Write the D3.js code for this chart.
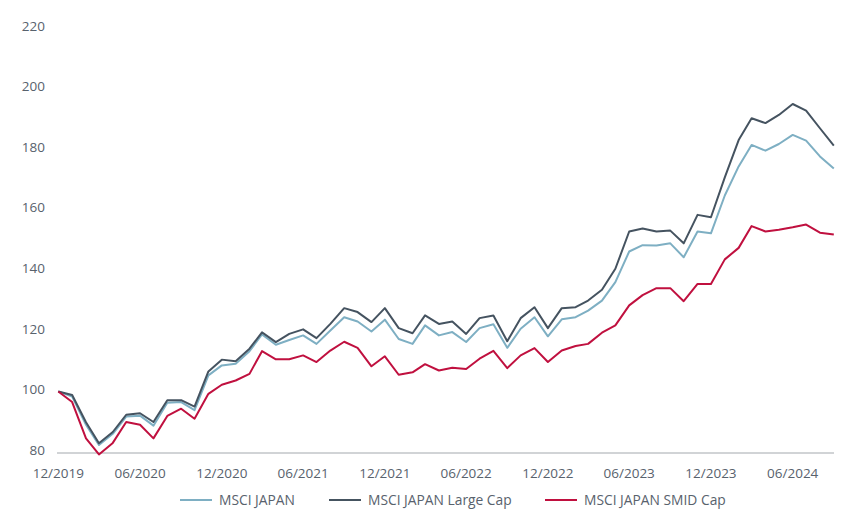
<!DOCTYPE html>
<html>
<head>
<meta charset="utf-8">
<script src="https://cdn.jsdelivr.net/npm/d3@7"></script>
<style>
  body { margin: 0; background: #fff; }
  text { font-family: "Open Sans", sans-serif; fill: #58626d; }
</style>
</head>
<body>
<div id="chart"></div>
<script>
// Monthly index values, 12/2019 = 100
var startMonth = "12/2019";
var msciJapan = [100, 98.3, 89.0, 82.3, 86.0, 91.7, 92.0, 88.7, 96.3, 96.5, 93.8,
  105.3, 108.6, 109.1, 113.3, 118.8, 115.4, 117.0, 118.5, 115.7, 120.1, 124.5,
  123.1, 119.8, 123.7, 117.3, 115.7, 121.8, 118.5, 119.6, 116.3, 120.9, 122.2,
  114.4, 120.7, 124.5, 118.2, 123.8, 124.5, 126.7, 130.0, 136.1, 146.2, 148.3,
  148.2, 148.9, 144.3, 152.8, 152.2, 164.7, 174.3, 181.4, 179.5, 181.7, 184.7,
  182.8, 177.6, 173.6];
var largeCap = [100, 98.8, 89.8, 82.9, 86.6, 92.3, 92.8, 89.9, 97.1, 97.1, 95.0,
  106.6, 110.5, 110.0, 114.1, 119.5, 116.3, 119.0, 120.5, 117.6, 122.3, 127.5,
  126.2, 122.9, 127.5, 120.9, 119.2, 125.1, 122.3, 123.1, 119.0, 124.2, 125.1,
  116.6, 124.2, 127.8, 120.9, 127.5, 127.8, 130.0, 133.6, 140.5, 152.8, 153.8,
  152.8, 153.1, 148.9, 158.3, 157.5, 170.7, 183.0, 190.2, 188.6, 191.3, 194.9,
  192.7, 186.9, 181.2];
var smidCap = [100, 96.5, 84.5, 79.2, 83.0, 89.9, 89.0, 84.5, 91.9, 94.3, 91.0,
  99.2, 102.2, 103.6, 105.8, 113.3, 110.6, 110.6, 111.9, 109.7, 113.5, 116.4,
  114.4, 108.3, 111.6, 105.5, 106.3, 109.0, 106.9, 107.8, 107.4, 110.8, 113.4,
  107.7, 111.9, 114.3, 109.7, 113.5, 115.0, 115.7, 119.4, 121.8, 128.4, 131.8,
  134.1, 134.1, 129.8, 135.5, 135.5, 143.6, 147.4, 154.6, 152.8, 153.4, 154.2,
  155.1, 152.4, 151.8];
var xTickLabels = ["12/2019", "06/2020", "12/2020", "06/2021", "12/2021",
  "06/2022", "12/2022", "06/2023", "12/2023", "06/2024"];
var yTicks = [80, 100, 120, 140, 160, 180, 200, 220];
var seriesNames = ["MSCI JAPAN", "MSCI JAPAN Large Cap", "MSCI JAPAN SMID Cap"];
var seriesColors = ["#7eafc3", "#455360", "#c0103f"];

var width = 855, height = 527;
var parseMonth = d3.timeParse("%m/%Y");
var start = parseMonth(startMonth);
var dates = msciJapan.map(function(d, i) { return d3.timeMonth.offset(start, i); });

var svg = d3.select("#chart").append("svg")
    .attr("width", width)
    .attr("height", height);

var x = d3.scaleTime()
    .domain([dates[0], dates[dates.length - 1]])
    .range([58.3, 833.8]);

var y = d3.scaleLinear()
    .domain([80, 220])
    .range([452, 28]);

// y labels (no axis line)
svg.append("g")
  .selectAll("text")
  .data(yTicks)
  .enter().append("text")
    .attr("x", 45)
    .attr("y", function(d) { return y(d) - 2; })
    .attr("dy", "0.35em")
    .attr("text-anchor", "end")
    .style("font-size", "13.5px")
    .text(function(d) { return d; });

// x axis baseline
svg.append("line")
    .attr("x1", 57)
    .attr("x2", 834)
    .attr("y1", y(80) + 1)
    .attr("y2", y(80) + 1)
    .attr("stroke", "#a3a8ad")
    .attr("stroke-width", 1);

svg.append("g")
  .selectAll("text")
  .data(xTickLabels)
  .enter().append("text")
    .attr("x", function(d) { return x(parseMonth(d)); })
    .attr("y", 473)
    .attr("dy", "0.35em")
    .attr("text-anchor", "middle")
    .style("font-size", "13.5px")
    .text(function(d) { return d; });

// lines
var line = d3.line()
    .x(function(d, i) { return x(dates[i]); })
    .y(function(d) { return y(d); });

[msciJapan, largeCap, smidCap].forEach(function(s, k) {
  svg.append("path")
      .datum(s)
      .attr("fill", "none")
      .attr("stroke", seriesColors[k])
      .attr("stroke-width", 2)
      .attr("stroke-linejoin", "round")
      .attr("d", line);
});

// legend
var legendX = [180, 329, 545];
var legend = svg.append("g")
  .selectAll("g")
  .data(seriesNames)
  .enter().append("g")
    .attr("transform", function(d, i) { return "translate(" + legendX[i] + ",500)"; });

legend.append("line")
    .attr("x1", 0)
    .attr("x2", 32)
    .attr("stroke", function(d, i) { return seriesColors[i]; })
    .attr("stroke-width", 2);

legend.append("text")
    .attr("x", 39)
    .attr("dy", "0.35em")
    .style("font-size", "13.8px")
    .text(function(d) { return d; });
</script>
</body>
</html>
